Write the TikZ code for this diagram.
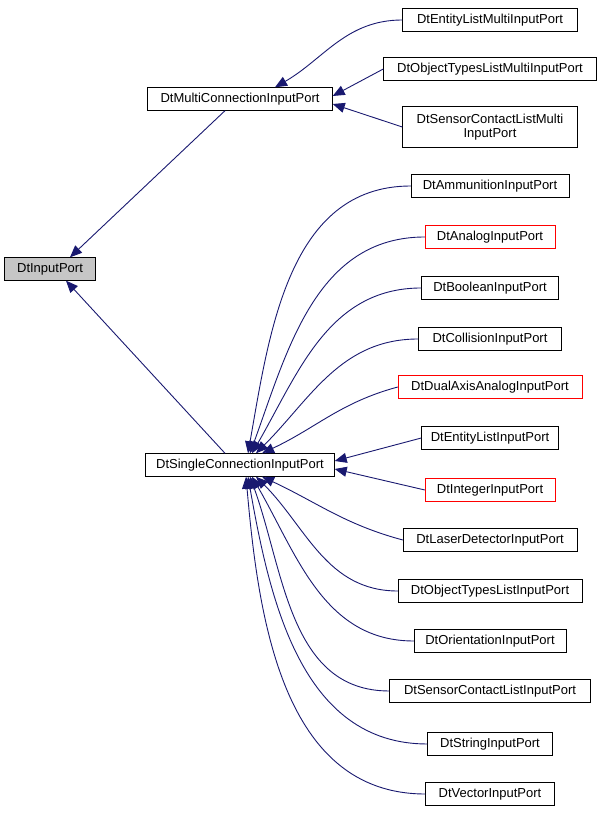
\documentclass[tikz,border=0pt]{standalone}
\usepackage{fontspec}
\setmainfont{Liberation Sans}
\usetikzlibrary{arrows.meta}

\begin{document}
\begin{tikzpicture}[x=1pt,y=1pt]
	\tikzset{cls/.style={draw,fill=white,inner sep=0pt,minimum height=23pt,font=\fontsize{13}{14}\selectfont,align=center}}
	\tikzset{bad/.style={cls,draw=red}}
	\tikzset{edge/.style={draw={rgb,255:red,25;green,25;blue,112},line width=0.9pt,{Triangle[length=12pt,width=10pt,fill={rgb,255:red,25;green,25;blue,112}]}-}}
	\useasboundingbox (0,0) rectangle (603,813);

	    \node[cls,fill=gray!45,minimum width=91pt] (base) at (50,544) {DtInputPort};
	    \node[cls,minimum width=185pt] (multi) at (240,714) {DtMultiConnectionInputPort};
	    \node[cls,minimum width=189pt] (single) at (240,348) {DtSingleConnectionInputPort};

	    \node[cls,minimum width=175pt] (entm) at (490,793) {DtEntityListMultiInputPort};
	    \node[cls,minimum width=213pt] (objm) at (490,744) {DtObjectTypesListMultiInputPort};
	    \node[cls,minimum width=175pt,minimum height=41pt] (senm) at (490,686) {DtSensorContactListMulti\\InputPort};

	    \node[cls,minimum width=158pt] (amm) at (490,627) {DtAmmunitionInputPort};
	    \node[bad,minimum width=130pt] (ana) at (490,576) {DtAnalogInputPort};
	    \node[cls,minimum width=137pt] (bool) at (490,525) {DtBooleanInputPort};
	    \node[cls,minimum width=143pt] (coll) at (490,474) {DtCollisionInputPort};
	    \node[bad,minimum width=184pt] (dual) at (490,426) {DtDualAxisAnalogInputPort};
	    \node[cls,minimum width=137pt] (ent) at (490,375) {DtEntityListInputPort};
	    \node[bad,minimum width=130pt] (int) at (490,323) {DtIntegerInputPort};
	    \node[cls,minimum width=174pt] (laser) at (490,273) {DtLaserDetectorInputPort};
	    \node[cls,minimum width=184pt] (obj) at (490,222) {DtObjectTypesListInputPort};
	    \node[cls,minimum width=152pt] (ori) at (490,172) {DtOrientationInputPort};
	    \node[cls,minimum width=201pt] (sen) at (490,122) {DtSensorContactListInputPort};
	    \node[cls,minimum width=125pt] (str) at (490,69) {DtStringInputPort};
	    \node[cls,minimum width=129pt] (vec) at (490,19) {DtVectorInputPort};

	    % generalisation edges
	    \draw[edge] ([xshift=20pt]base.north) -- ([xshift=-15pt]multi.south);
	    \draw[edge] ([xshift=16pt]base.south) -- ([xshift=-15pt]single.north);
	    \draw[edge] ([xshift=35pt]multi.north) to[out=30,in=180] (entm.west);
	    \draw[edge] ([yshift=3pt]multi.east) -- (objm.west);
	    \draw[edge] ([yshift=-5pt]multi.east) -- (senm.west);

	    \draw[edge] ([xshift=8pt]single.north) to[out=80,in=180] (amm.west);
	    \draw[edge] ([xshift=10pt]single.north) to[out=70,in=180] (ana.west);
	    \draw[edge] ([xshift=12pt]single.north) to[out=60,in=180] (bool.west);
	    \draw[edge] ([xshift=16pt]single.north) to[out=45,in=180] (coll.west);
	    \draw[edge] ([xshift=22pt]single.north) to[out=25,in=195] (dual.west);
	    \draw[edge] ([yshift=4pt]single.east) -- (ent.west);
	    \draw[edge] ([yshift=-4pt]single.east) -- (int.west);
	    \draw[edge] ([xshift=22pt]single.south) to[out=-25,in=165] (laser.west);
	    \draw[edge] ([xshift=16pt]single.south) to[out=-45,in=180] (obj.west);
	    \draw[edge] ([xshift=12pt]single.south) to[out=-60,in=180] (ori.west);
	    \draw[edge] ([xshift=10pt]single.south) to[out=-70,in=180] (sen.west);
	    \draw[edge] ([xshift=8pt]single.south) to[out=-80,in=180] (str.west);
	    \draw[edge] ([xshift=6pt]single.south) to[out=-85,in=180] (vec.west);

\end{tikzpicture}
\end{document}
